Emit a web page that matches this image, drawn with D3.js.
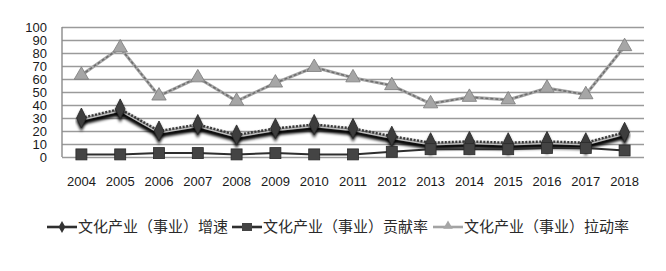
<!DOCTYPE html>
<html>
<head>
<meta charset="utf-8">
<script src="https://cdn.jsdelivr.net/npm/d3@7"></script>
<style>
  html, body { margin: 0; padding: 0; background: #fff; }
  svg { display: block; }
</style>
</head>
<body>
<div id="chart"></div>
<script>
// chart data
const years = ['2004','2005','2006','2007','2008','2009','2010','2011','2012','2013','2014','2015','2016','2017','2018'];
const growth = [30, 37, 20, 25, 17, 22, 25, 22, 16, 11, 12, 11, 12, 11, 19];
const contribution = [2, 2, 3, 3, 2, 3, 2, 2, 4, 6, 6, 6, 7, 7, 5];
const pull = [63, 84, 47, 61, 43, 57, 69, 61, 55, 41, 46, 44, 53, 48, 85];
const yTicks = [0, 10, 20, 30, 40, 50, 60, 70, 80, 90, 100];
const seriesNames = ['文化产业（事业）增速', '文化产业（事业）贡献率', '文化产业（事业）拉动率'];

const width = 666, height = 271;
const margin = { top: 27, right: 22, bottom: 114, left: 62 };
const innerW = width - margin.left - margin.right;
const innerH = height - margin.top - margin.bottom;
const fontFamily = '"Liberation Sans", Arial, sans-serif';
const cjkFont = '"Noto Sans CJK SC", "Noto Sans", sans-serif';

const svg = d3.select('#chart').append('svg')
  .attr('width', width)
  .attr('height', height);

const defs = svg.append('defs');
defs.append('filter').attr('id', 'blur')
  .attr('x', '-10%').attr('y', '-50%').attr('width', '120%').attr('height', '200%')
  .append('feGaussianBlur').attr('stdDeviation', 1.5);

const g = svg.append('g').attr('transform', `translate(${margin.left},${margin.top})`);

const x = d3.scaleBand().domain(years).range([0, innerW]);
const y = d3.scaleLinear().domain([0, 100]).range([innerH, 0]);
const cx = d => x(d) + x.bandwidth() / 2;

// gridlines
g.append('g')
  .call(d3.axisLeft(y).tickValues(yTicks).tickSize(-innerW).tickFormat(''))
  .call(a => {
    a.select('.domain').remove();
    a.selectAll('line').style('stroke', '#9a9a9a').style('stroke-width', 1.4);
  });

// left axis line
g.append('line')
  .attr('x1', 0).attr('x2', 0).attr('y1', 0).attr('y2', innerH)
  .style('stroke', '#8a8a8a').style('stroke-width', 1.4);

// y tick labels
g.append('g')
  .call(d3.axisLeft(y).tickValues(yTicks).tickSize(0).tickPadding(15))
  .call(a => {
    a.select('.domain').remove();
    a.selectAll('text').style('fill', '#1a1a1a').style('font-size', '13px').style('font-family', fontFamily);
  });

// x labels
g.append('g')
  .attr('transform', `translate(0,${innerH})`)
  .call(d3.axisBottom(x).tickSize(0).tickPadding(20))
  .call(a => {
    a.select('.domain').remove();
    a.selectAll('text').style('fill', '#1a1a1a').style('font-size', '13px').style('font-family', fontFamily);
  });

const line = d3.line().x((d, i) => cx(years[i])).y(d => y(d));

// 拉动率 - light grey dashed with triangles
const gPull = g.append('g');
gPull.append('path').datum(pull).attr('d', line)
  .attr('fill', 'none').style('stroke', '#a9a9a9').style('stroke-width', 3.2);
gPull.append('path').datum(pull).attr('d', line)
  .attr('fill', 'none').style('stroke', '#6e6e6e').style('stroke-width', 1.6).style('stroke-dasharray', '3,2');
gPull.selectAll('path.tri').data(pull).join('path').attr('class', 'tri')
  .attr('transform', (d, i) => `translate(${cx(years[i])},${y(d)})`)
  .attr('d', d3.symbol(d3.symbolTriangle, 90))
  .style('fill', '#a6a6a6').style('stroke', '#7a7a7a').style('stroke-width', 0.8);

// 增速 - dark dotted line with shadow and diamonds
const gGrowth = g.append('g');
gGrowth.append('path').datum(growth).attr('d', line)
  .attr('transform', 'translate(0,4)')
  .attr('fill', 'none').style('stroke', '#000').style('stroke-width', 5.5)
  .attr('filter', 'url(#blur)');
gGrowth.append('path').datum(growth).attr('d', line)
  .attr('transform', 'translate(0,2)')
  .attr('fill', 'none').style('stroke', '#bdbdbd').style('stroke-width', 1.5);
gGrowth.append('path').datum(growth).attr('d', line)
  .attr('fill', 'none').style('stroke', '#3a3a3a').style('stroke-width', 2.4).style('stroke-dasharray', '2,1.5');
gGrowth.selectAll('path.dia').data(growth).join('path').attr('class', 'dia')
  .attr('transform', (d, i) => `translate(${cx(years[i])},${y(d) + 3}) scale(1,1.2)`)
  .attr('d', d3.symbol(d3.symbolDiamond, 90))
  .style('fill', '#000').attr('filter', 'url(#blur)');
gGrowth.selectAll('path.dia2').data(growth).join('path').attr('class', 'dia2')
  .attr('transform', (d, i) => `translate(${cx(years[i])},${y(d)}) scale(1,1.2)`)
  .attr('d', d3.symbol(d3.symbolDiamond, 80))
  .style('fill', '#3d3d3d').style('stroke', '#2a2a2a').style('stroke-width', 0.8);

// 贡献率 - dark line with squares
const gContrib = g.append('g');
gContrib.append('path').datum(contribution).attr('d', line)
  .attr('fill', 'none').style('stroke', '#2e2e2e').style('stroke-width', 2);
gContrib.selectAll('rect').data(contribution).join('rect')
  .attr('x', (d, i) => cx(years[i]) - 5.5).attr('y', d => y(d) - 5.5)
  .attr('width', 11).attr('height', 11)
  .style('fill', '#444').style('stroke', '#2a2a2a').style('stroke-width', 0.8);

// legend
const legendY = 227;
const legendItems = [
  { name: seriesNames[0], x0: 47, color: '#2f2f2f', marker: 'diamond' },
  { name: seriesNames[1], x0: 232, color: '#2f2f2f', marker: 'square' },
  { name: seriesNames[2], x0: 433, color: '#a3a3a3', marker: 'triangle' }
];
const leg = svg.append('g');
legendItems.forEach(it => {
  const lg = leg.append('g');
  lg.append('line').attr('x1', it.x0).attr('x2', it.x0 + 30).attr('y1', legendY).attr('y2', legendY)
    .style('stroke', it.color).style('stroke-width', 2.6);
  const mx = it.x0 + 15;
  if (it.marker === 'diamond') {
    lg.append('path').attr('transform', `translate(${mx},${legendY})`)
      .attr('d', d3.symbol(d3.symbolDiamond, 40)).style('fill', '#333');
  } else if (it.marker === 'square') {
    lg.append('rect').attr('x', mx - 5).attr('y', legendY - 4).attr('width', 10).attr('height', 8)
      .style('fill', '#444');
  } else {
    lg.append('path').attr('transform', `translate(${mx},${legendY - 1})`)
      .attr('d', d3.symbol(d3.symbolTriangle, 40)).style('fill', '#a6a6a6');
  }
  lg.append('text').attr('x', it.x0 + 31).attr('y', legendY).attr('dy', '0.35em')
    .style('font-family', cjkFont).style('font-size', '15px').style('fill', '#2a2a2a')
    .text(it.name);
});
</script>
</body>
</html>
